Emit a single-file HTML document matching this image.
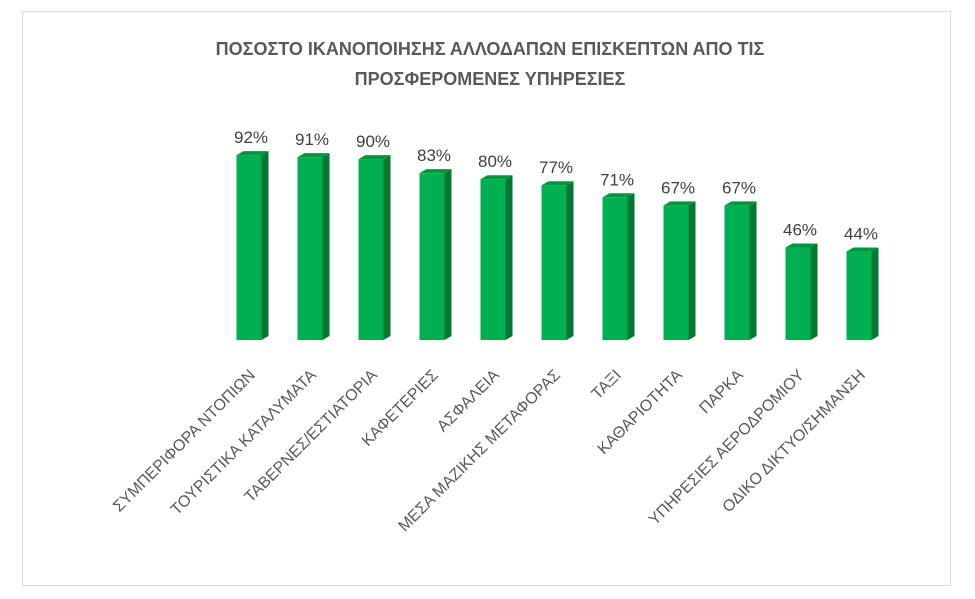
<!DOCTYPE html>
<html><head><meta charset="utf-8"><style>
body{margin:0;background:#fff;}
svg{display:block;font-family:"Liberation Sans","DejaVu Sans",sans-serif;}
</style></head><body>
<svg id="chart" width="975" height="599" viewBox="0 0 975 599">
<rect x="22.5" y="11.5" width="928" height="574" fill="#fff" stroke="#d9d9d9" stroke-width="1"/>
<text x="490" y="55" text-anchor="middle" font-size="18" font-weight="bold" fill="#595959">ΠΟΣΟΣΤΟ ΙΚΑΝΟΠΟΙΗΣΗΣ ΑΛΛΟΔΑΠΩΝ ΕΠΙΣΚΕΠΤΩΝ ΑΠΟ ΤΙΣ</text>
<text x="490" y="85" text-anchor="middle" font-size="18" font-weight="bold" fill="#595959">ΠΡΟΣΦΕΡΟΜΕΝΕΣ ΥΠΗΡΕΣΙΕΣ</text>
<g id="bars"></g>
</svg>
<script>
const categories=["ΣΥΜΠΕΡΙΦΟΡΑ ΝΤΟΠΙΩΝ","ΤΟΥΡΙΣΤΙΚΑ ΚΑΤΑΛΥΜΑΤΑ","ΤΑΒΕΡΝΕΣ/ΕΣΤΙΑΤΟΡΙΑ","ΚΑΦΕΤΕΡΙΕΣ","ΑΣΦΑΛΕΙΑ","ΜΕΣΑ ΜΑΖΙΚΗΣ ΜΕΤΑΦΟΡΑΣ","ΤΑΞΙ","ΚΑΘΑΡΙΟΤΗΤΑ","ΠΑΡΚΑ","ΥΠΗΡΕΣΙΕΣ ΑΕΡΟΔΡΟΜΙΟΥ","ΟΔΙΚΟ ΔΙΚΤΥΟ/ΣΗΜΑΝΣΗ"];
const values=[92,91,90,83,80,77,71,67,67,46,44];
const ns="http://www.w3.org/2000/svg";
const g=document.getElementById('bars');
const baseY=340, pxPerPct=2.01, x0=249, step=61, bw=25, d=7;
function xPos(i){return x0+i*step;}
function yPos(v){return baseY-v*pxPerPct;}
function mk(tag,attrs){const e=document.createElementNS(ns,tag);for(const k in attrs)e.setAttribute(k,attrs[k]);g.appendChild(e);return e;}
values.forEach((v,i)=>{
  const cx=xPos(i), l=cx-bw/2, r=cx+bw/2, t=yPos(v);
  const side=mk('polygon',{points:`${r},${t} ${r+d},${t-4} ${r+d},${baseY-4} ${r},${baseY}`,fill:'#007a33'});
  
  
  const top=mk('polygon',{points:`${l},${t} ${l+d},${t-4} ${r+d},${t-4} ${r},${t}`,fill:'#00963e'});
  
  
  const front=mk('rect',{x:l,y:t,width:bw,height:baseY-t,fill:'#00b050'});
  
  
  const lbl=mk('text',{x:cx+2,y:t-12,'text-anchor':'middle','font-size':'17',fill:'#404040'});
  lbl.textContent=v+'%';
  
  
  const cl=mk('text',{x:cx+7,y:376,'text-anchor':'end','font-size':'16',fill:'#595959',transform:`rotate(-45 ${cx+7} 376)`});
  cl.textContent=categories[i];
  
  
});
</script>
</body></html>
